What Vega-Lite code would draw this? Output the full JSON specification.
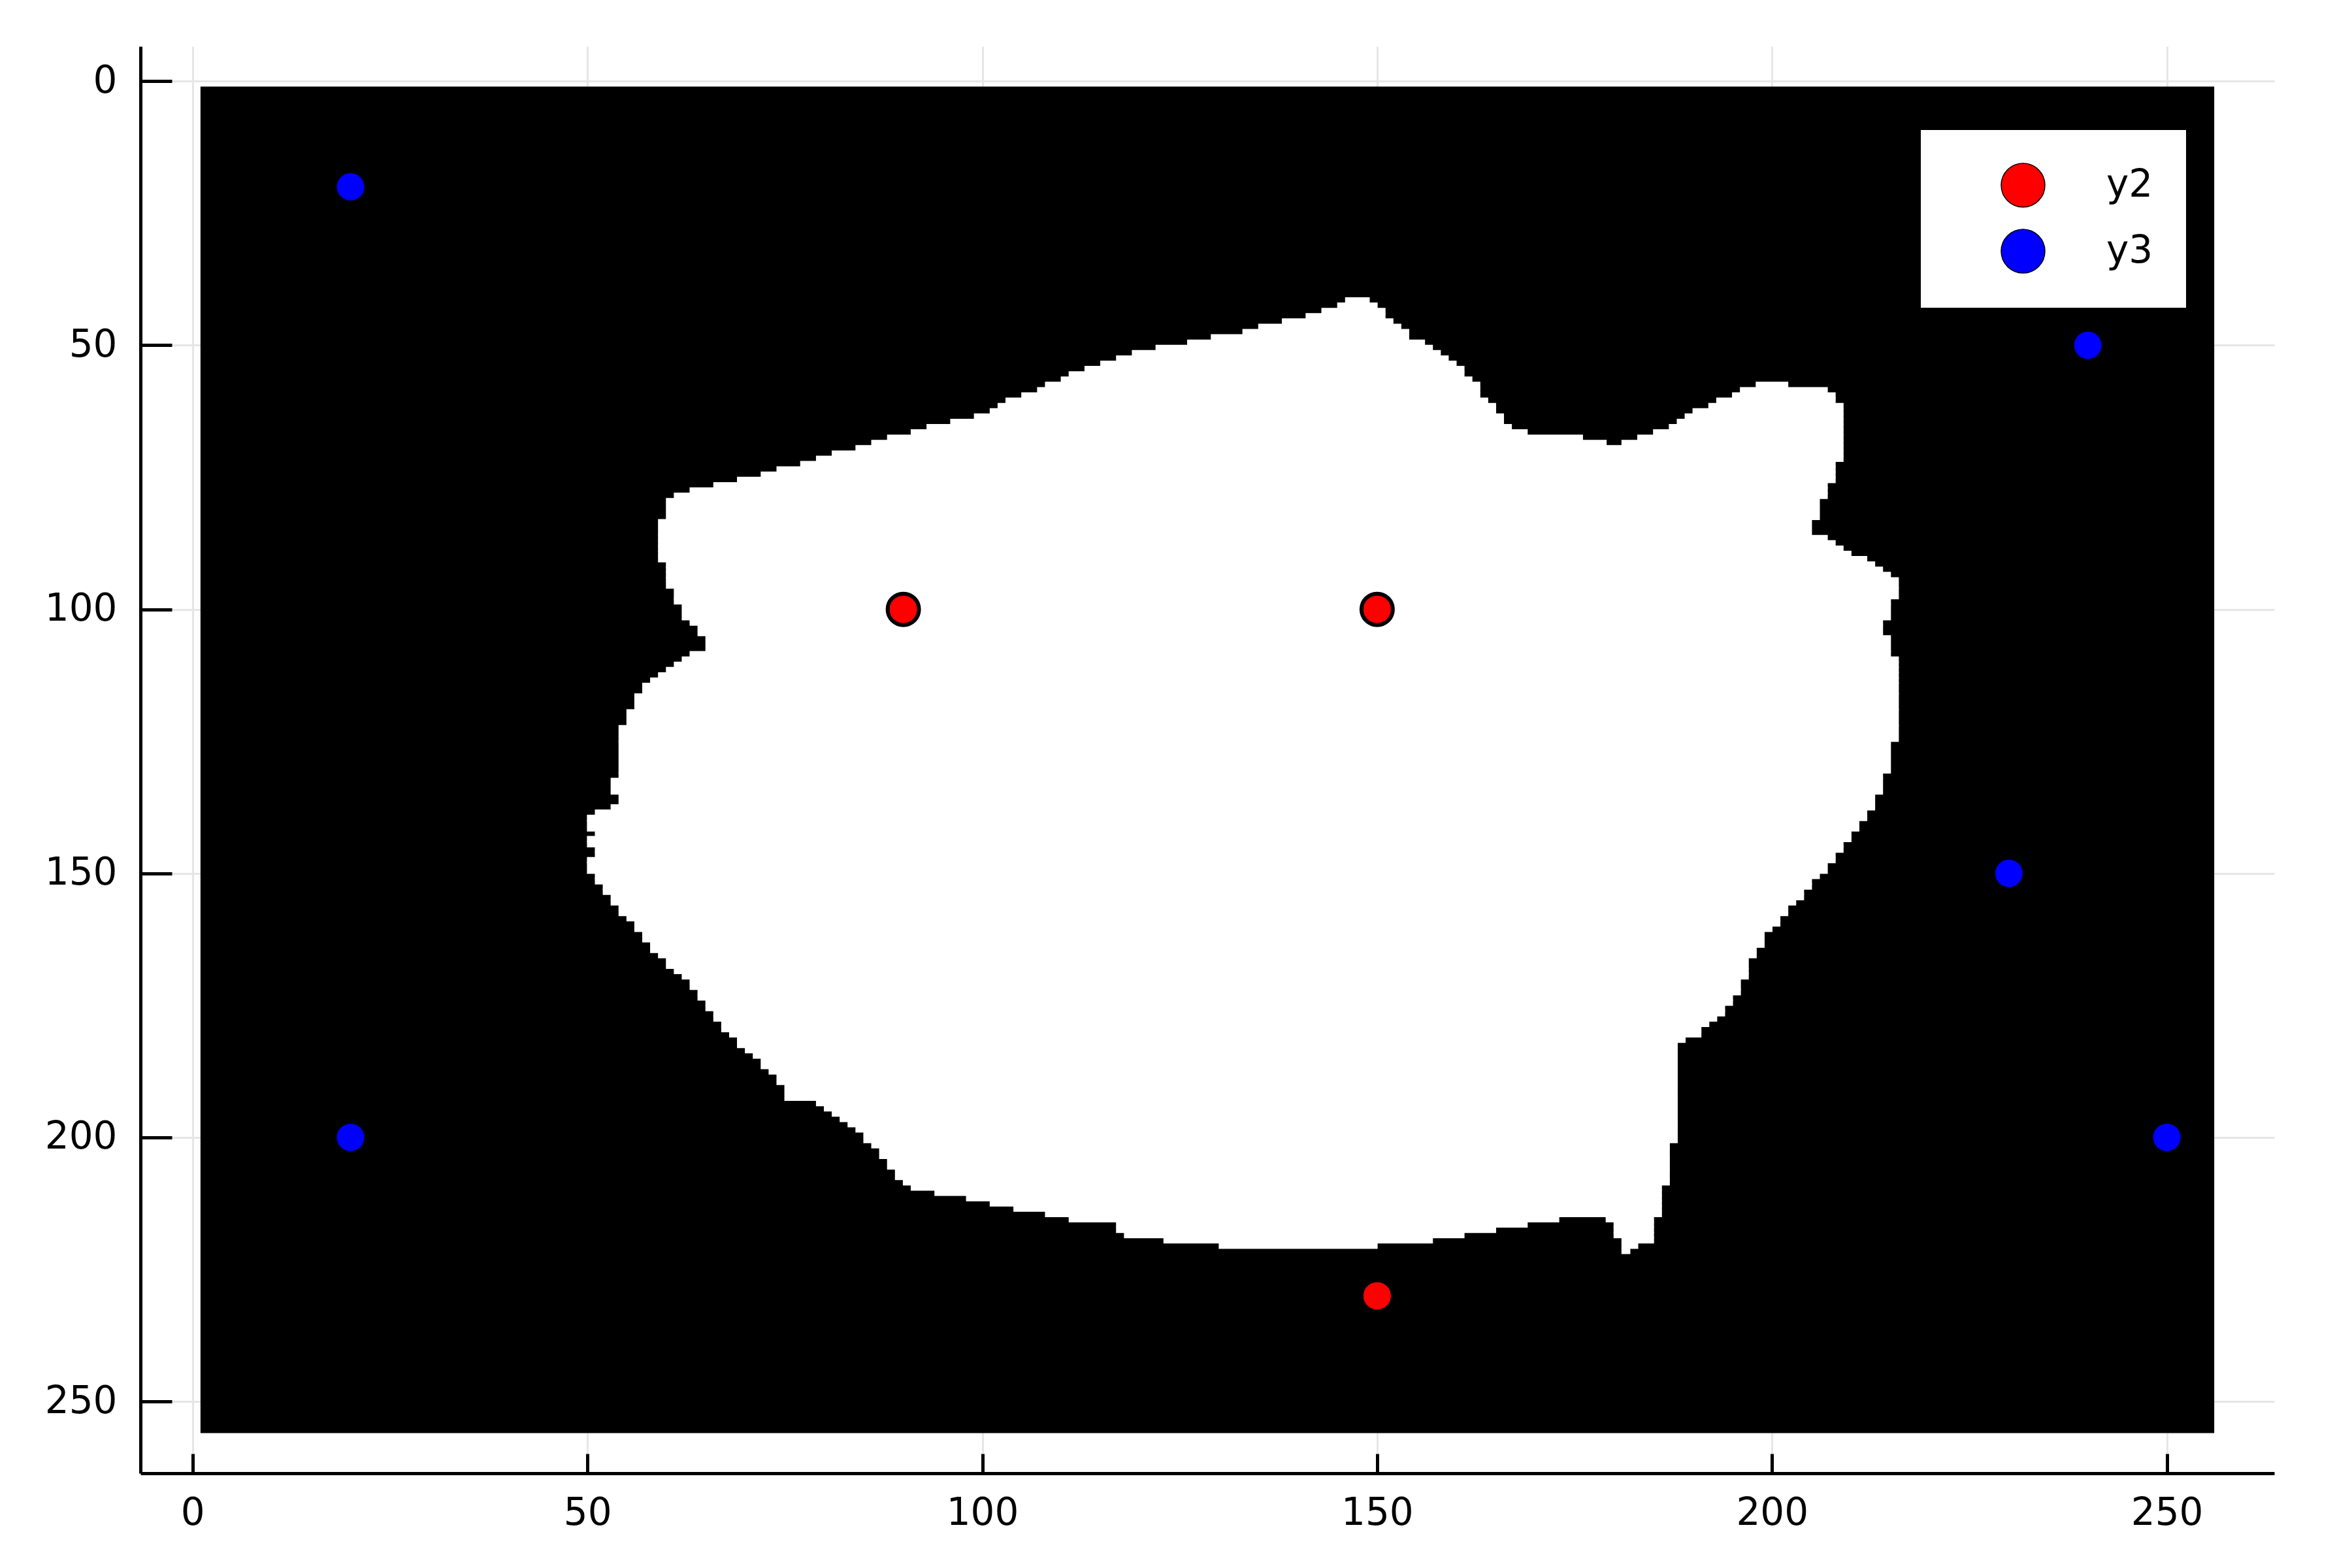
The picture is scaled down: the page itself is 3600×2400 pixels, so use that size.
{
  "$schema": "https://vega.github.io/schema/vega-lite/v6.json",
  "width": 3266,
  "height": 2184,
  "autosize": {"type": "none"},
  "padding": {"left": 215, "top": 71, "right": 119, "bottom": 145},
  "background": "white",
  "config": {
    "view": {"stroke": null},
    "font": "DejaVu Sans",
    "axis": {
      "domainColor": "black",
      "domainWidth": 5,
      "tickColor": "black",
      "tickWidth": 5,
      "gridColor": "#e6e6e6",
      "gridWidth": 3,
      "labelFont": "DejaVu Sans",
      "labelFontSize": 58,
      "labelColor": "black",
      "title": null
    }
  },
  "datasets": {
    "frame": [{"x": 1, "x2": 256, "y": 1, "y2": 256}],
    "blob": [
      {"y": 41, "y2": 42, "x": 146, "x2": 149},
      {"y": 42, "y2": 43, "x": 145, "x2": 150},
      {"y": 43, "y2": 44, "x": 143, "x2": 151},
      {"y": 44, "y2": 45, "x": 141, "x2": 151},
      {"y": 45, "y2": 46, "x": 138, "x2": 152},
      {"y": 46, "y2": 47, "x": 135, "x2": 153},
      {"y": 47, "y2": 48, "x": 133, "x2": 154},
      {"y": 48, "y2": 49, "x": 129, "x2": 154},
      {"y": 49, "y2": 50, "x": 126, "x2": 156},
      {"y": 50, "y2": 51, "x": 122, "x2": 157},
      {"y": 51, "y2": 52, "x": 119, "x2": 158},
      {"y": 52, "y2": 53, "x": 117, "x2": 159},
      {"y": 53, "y2": 54, "x": 115, "x2": 160},
      {"y": 54, "y2": 55, "x": 113, "x2": 161},
      {"y": 55, "y2": 56, "x": 111, "x2": 161},
      {"y": 56, "y2": 57, "x": 110, "x2": 162},
      {"y": 57, "y2": 58, "x": 108, "x2": 163},
      {"y": 57, "y2": 58, "x": 198, "x2": 202},
      {"y": 58, "y2": 59, "x": 107, "x2": 163},
      {"y": 58, "y2": 59, "x": 196, "x2": 207},
      {"y": 59, "y2": 60, "x": 105, "x2": 163},
      {"y": 59, "y2": 60, "x": 195, "x2": 208},
      {"y": 60, "y2": 61, "x": 103, "x2": 164},
      {"y": 60, "y2": 61, "x": 193, "x2": 208},
      {"y": 61, "y2": 62, "x": 102, "x2": 165},
      {"y": 61, "y2": 62, "x": 192, "x2": 209},
      {"y": 62, "y2": 63, "x": 101, "x2": 165},
      {"y": 62, "y2": 63, "x": 190, "x2": 209},
      {"y": 63, "y2": 64, "x": 99, "x2": 166},
      {"y": 63, "y2": 64, "x": 189, "x2": 209},
      {"y": 64, "y2": 65, "x": 96, "x2": 166},
      {"y": 64, "y2": 65, "x": 188, "x2": 209},
      {"y": 65, "y2": 66, "x": 93, "x2": 167},
      {"y": 65, "y2": 66, "x": 187, "x2": 209},
      {"y": 66, "y2": 67, "x": 91, "x2": 169},
      {"y": 66, "y2": 67, "x": 185, "x2": 209},
      {"y": 67, "y2": 68, "x": 88, "x2": 176},
      {"y": 67, "y2": 68, "x": 183, "x2": 209},
      {"y": 68, "y2": 69, "x": 86, "x2": 179},
      {"y": 68, "y2": 69, "x": 181, "x2": 209},
      {"y": 69, "y2": 70, "x": 84, "x2": 209},
      {"y": 70, "y2": 71, "x": 81, "x2": 209},
      {"y": 71, "y2": 72, "x": 79, "x2": 209},
      {"y": 72, "y2": 73, "x": 77, "x2": 208},
      {"y": 73, "y2": 74, "x": 74, "x2": 208},
      {"y": 74, "y2": 75, "x": 72, "x2": 208},
      {"y": 75, "y2": 76, "x": 69, "x2": 208},
      {"y": 76, "y2": 77, "x": 66, "x2": 207},
      {"y": 77, "y2": 78, "x": 63, "x2": 207},
      {"y": 78, "y2": 79, "x": 61, "x2": 207},
      {"y": 79, "y2": 83, "x": 60, "x2": 206},
      {"y": 83, "y2": 86, "x": 59, "x2": 205},
      {"y": 86, "y2": 87, "x": 59, "x2": 207},
      {"y": 87, "y2": 88, "x": 59, "x2": 208},
      {"y": 88, "y2": 89, "x": 59, "x2": 209},
      {"y": 89, "y2": 90, "x": 59, "x2": 210},
      {"y": 90, "y2": 91, "x": 59, "x2": 212},
      {"y": 91, "y2": 92, "x": 60, "x2": 213},
      {"y": 92, "y2": 93, "x": 60, "x2": 214},
      {"y": 93, "y2": 94, "x": 60, "x2": 215},
      {"y": 94, "y2": 96, "x": 60, "x2": 216},
      {"y": 96, "y2": 98, "x": 61, "x2": 216},
      {"y": 98, "y2": 99, "x": 61, "x2": 215},
      {"y": 99, "y2": 102, "x": 62, "x2": 215},
      {"y": 102, "y2": 103, "x": 63, "x2": 214},
      {"y": 103, "y2": 105, "x": 64, "x2": 214},
      {"y": 105, "y2": 108, "x": 65, "x2": 215},
      {"y": 108, "y2": 109, "x": 63, "x2": 215},
      {"y": 109, "y2": 110, "x": 62, "x2": 216},
      {"y": 110, "y2": 111, "x": 61, "x2": 216},
      {"y": 111, "y2": 112, "x": 60, "x2": 216},
      {"y": 112, "y2": 113, "x": 59, "x2": 216},
      {"y": 113, "y2": 114, "x": 58, "x2": 216},
      {"y": 114, "y2": 116, "x": 57, "x2": 216},
      {"y": 116, "y2": 119, "x": 56, "x2": 216},
      {"y": 119, "y2": 122, "x": 55, "x2": 216},
      {"y": 122, "y2": 125, "x": 54, "x2": 216},
      {"y": 125, "y2": 131, "x": 54, "x2": 215},
      {"y": 131, "y2": 132, "x": 54, "x2": 214},
      {"y": 132, "y2": 135, "x": 53, "x2": 214},
      {"y": 135, "y2": 137, "x": 54, "x2": 213},
      {"y": 137, "y2": 138, "x": 53, "x2": 213},
      {"y": 138, "y2": 139, "x": 51, "x2": 212},
      {"y": 139, "y2": 140, "x": 50, "x2": 212},
      {"y": 140, "y2": 142, "x": 50, "x2": 211},
      {"y": 142, "y2": 143, "x": 51, "x2": 210},
      {"y": 143, "y2": 144, "x": 50, "x2": 210},
      {"y": 144, "y2": 145, "x": 50, "x2": 209},
      {"y": 145, "y2": 146, "x": 51, "x2": 209},
      {"y": 146, "y2": 147, "x": 51, "x2": 208},
      {"y": 147, "y2": 148, "x": 50, "x2": 208},
      {"y": 148, "y2": 150, "x": 50, "x2": 207},
      {"y": 150, "y2": 151, "x": 51, "x2": 206},
      {"y": 151, "y2": 152, "x": 51, "x2": 205},
      {"y": 152, "y2": 153, "x": 52, "x2": 205},
      {"y": 153, "y2": 154, "x": 52, "x2": 204},
      {"y": 154, "y2": 155, "x": 53, "x2": 204},
      {"y": 155, "y2": 156, "x": 53, "x2": 203},
      {"y": 156, "y2": 158, "x": 54, "x2": 202},
      {"y": 158, "y2": 159, "x": 55, "x2": 201},
      {"y": 159, "y2": 160, "x": 56, "x2": 201},
      {"y": 160, "y2": 161, "x": 56, "x2": 200},
      {"y": 161, "y2": 163, "x": 57, "x2": 199},
      {"y": 163, "y2": 164, "x": 58, "x2": 199},
      {"y": 164, "y2": 165, "x": 58, "x2": 198},
      {"y": 165, "y2": 166, "x": 59, "x2": 198},
      {"y": 166, "y2": 168, "x": 60, "x2": 197},
      {"y": 168, "y2": 169, "x": 61, "x2": 197},
      {"y": 169, "y2": 170, "x": 62, "x2": 197},
      {"y": 170, "y2": 172, "x": 63, "x2": 196},
      {"y": 172, "y2": 173, "x": 64, "x2": 196},
      {"y": 173, "y2": 174, "x": 64, "x2": 195},
      {"y": 174, "y2": 175, "x": 65, "x2": 195},
      {"y": 175, "y2": 176, "x": 65, "x2": 194},
      {"y": 176, "y2": 177, "x": 66, "x2": 194},
      {"y": 177, "y2": 178, "x": 66, "x2": 193},
      {"y": 178, "y2": 179, "x": 67, "x2": 192},
      {"y": 179, "y2": 180, "x": 67, "x2": 191},
      {"y": 180, "y2": 181, "x": 68, "x2": 191},
      {"y": 181, "y2": 182, "x": 69, "x2": 189},
      {"y": 182, "y2": 183, "x": 69, "x2": 188},
      {"y": 183, "y2": 184, "x": 70, "x2": 188},
      {"y": 184, "y2": 185, "x": 71, "x2": 188},
      {"y": 185, "y2": 187, "x": 72, "x2": 188},
      {"y": 187, "y2": 188, "x": 73, "x2": 188},
      {"y": 188, "y2": 190, "x": 74, "x2": 188},
      {"y": 190, "y2": 193, "x": 75, "x2": 188},
      {"y": 193, "y2": 194, "x": 79, "x2": 188},
      {"y": 194, "y2": 195, "x": 80, "x2": 188},
      {"y": 195, "y2": 196, "x": 81, "x2": 188},
      {"y": 196, "y2": 197, "x": 82, "x2": 188},
      {"y": 197, "y2": 198, "x": 83, "x2": 188},
      {"y": 198, "y2": 199, "x": 84, "x2": 188},
      {"y": 199, "y2": 201, "x": 85, "x2": 188},
      {"y": 201, "y2": 202, "x": 86, "x2": 187},
      {"y": 202, "y2": 204, "x": 87, "x2": 187},
      {"y": 204, "y2": 206, "x": 88, "x2": 187},
      {"y": 206, "y2": 208, "x": 89, "x2": 187},
      {"y": 208, "y2": 209, "x": 90, "x2": 187},
      {"y": 209, "y2": 210, "x": 91, "x2": 186},
      {"y": 210, "y2": 211, "x": 94, "x2": 186},
      {"y": 211, "y2": 212, "x": 98, "x2": 186},
      {"y": 212, "y2": 213, "x": 101, "x2": 186},
      {"y": 213, "y2": 214, "x": 104, "x2": 186},
      {"y": 214, "y2": 215, "x": 108, "x2": 186},
      {"y": 215, "y2": 216, "x": 111, "x2": 173},
      {"y": 215, "y2": 216, "x": 179, "x2": 185},
      {"y": 216, "y2": 217, "x": 117, "x2": 169},
      {"y": 216, "y2": 217, "x": 180, "x2": 185},
      {"y": 217, "y2": 218, "x": 117, "x2": 165},
      {"y": 217, "y2": 218, "x": 180, "x2": 185},
      {"y": 218, "y2": 219, "x": 118, "x2": 161},
      {"y": 218, "y2": 219, "x": 180, "x2": 185},
      {"y": 219, "y2": 220, "x": 123, "x2": 157},
      {"y": 219, "y2": 220, "x": 181, "x2": 185},
      {"y": 220, "y2": 221, "x": 130, "x2": 150},
      {"y": 220, "y2": 221, "x": 181, "x2": 183},
      {"y": 221, "y2": 222, "x": 181, "x2": 182}
    ],
    "points": [
      {"series": "y2", "x": 90, "y": 100},
      {"series": "y2", "x": 150, "y": 100},
      {"series": "y2", "x": 150, "y": 230},
      {"series": "y3", "x": 20, "y": 20},
      {"series": "y3", "x": 240, "y": 50},
      {"series": "y3", "x": 230, "y": 150},
      {"series": "y3", "x": 20, "y": 200},
      {"series": "y3", "x": 250, "y": 200}
    ]
  },
  "layer": [
    {
      "data": {"name": "frame"},
      "mark": {"type": "rect", "color": "black"},
      "encoding": {
        "x": {
          "field": "x",
          "type": "quantitative",
          "scale": {"domain": [-6.6, 263.6], "nice": false, "zero": false},
          "axis": {
            "values": [0, 50, 100, 150, 200, 250],
            "tickSize": -30,
            "labelPadding": 62,
            "grid": true
          }
        },
        "x2": {"field": "x2"},
        "y": {
          "field": "y",
          "type": "quantitative",
          "scale": {"domain": [-6.6, 263.6], "nice": false, "zero": false, "reverse": true},
          "axis": {
            "values": [0, 50, 100, 150, 200, 250],
            "tickSize": -48,
            "labelPadding": 84,
            "grid": true
          }
        },
        "y2": {"field": "y2"}
      }
    },
    {
      "data": {"name": "blob"},
      "mark": {"type": "rect", "color": "white", "stroke": "white", "strokeWidth": 1.5},
      "encoding": {
        "x": {"field": "x", "type": "quantitative"},
        "x2": {"field": "x2"},
        "y": {"field": "y", "type": "quantitative"},
        "y2": {"field": "y2"}
      }
    },
    {
      "data": {"name": "points"},
      "mark": {"type": "point", "shape": "circle", "filled": true, "opacity": 1, "size": 2304, "stroke": "black", "strokeWidth": 6},
      "encoding": {
        "x": {"field": "x", "type": "quantitative"},
        "y": {"field": "y", "type": "quantitative"},
        "color": {
          "field": "series",
          "type": "nominal",
          "scale": {"domain": ["y2", "y3"], "range": ["#ff0000", "#0000ff"]},
          "legend": {
            "title": null,
            "orient": "none",
            "legendX": 2725,
            "legendY": 128,
            "fillColor": "white",
            "strokeColor": null,
            "padding": 50,
            "rowPadding": 28,
            "symbolType": "circle",
            "symbolSize": 4489,
            "symbolOffset": 72,
            "labelOffset": 93,
            "labelFont": "DejaVu Sans",
            "labelFontSize": 58,
            "labelColor": "black",
            "encode": {
              "symbols": {
                "update": {
                  "stroke": {"value": "black"},
                  "strokeWidth": {"value": 5},
                  "opacity": {"value": 1}
                }
              }
            }
          }
        }
      }
    }
  ]
}
